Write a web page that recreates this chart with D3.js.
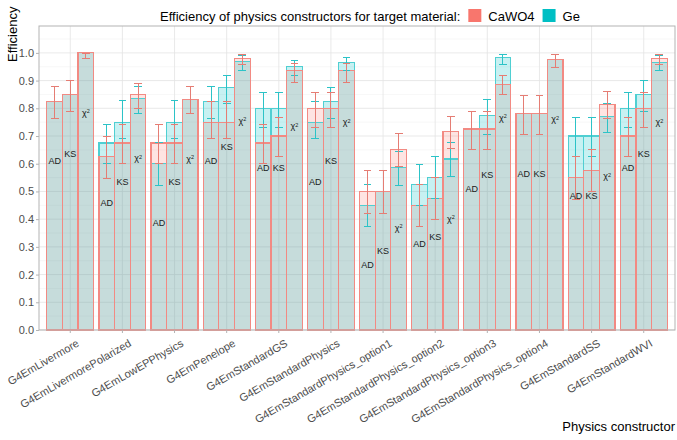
<!DOCTYPE html>
<html>
<head>
<meta charset="utf-8">
<script src="https://cdnjs.cloudflare.com/ajax/libs/d3/7.8.5/d3.min.js"></script>
<style>
  body { margin: 0; background: #fff; }
  text { font-family: "Liberation Sans", Arial, sans-serif; }
</style>
</head>
<body>
<svg id="svg" width="677" height="440"></svg>
<script>
// data
var constructors = ["G4EmLivermore", "G4EmLivermorePolarized", "G4EmLowEPPhysics", "G4EmPenelope",
  "G4EmStandardGS", "G4EmStandardPhysics", "G4EmStandardPhysics_option1", "G4EmStandardPhysics_option2",
  "G4EmStandardPhysics_option3", "G4EmStandardPhysics_option4", "G4EmStandardSS", "G4EmStandardWVI"];
var tests = ["AD", "KS", "X2"];
var yTicks = [0, 0.1, 0.2, 0.3, 0.4, 0.5, 0.6, 0.7, 0.8, 0.9, 1.0];

// efficiency per constructor: [AD, KS, chi2]
var cawo4Eff = [[0.825,0.85,1.0],[0.625,0.675,0.85],[0.675,0.675,0.833],[0.75,0.75,0.98],
  [0.675,0.7,0.935],[0.8,0.8,0.935],[0.5,0.5,0.65],[0.45,0.475,0.716],
  [0.725,0.725,0.885],[0.78,0.78,0.977],[0.55,0.575,0.815],[0.7,0.8,0.98]];
var cawo4Lo = [[0.762,0.79,0.98],[0.547,0.6,0.8],[0.6,0.6,0.783],[0.69,0.69,0.957],
  [0.6,0.626,0.894],[0.73,0.73,0.894],[0.421,0.421,0.59],[0.375,0.397,0.656],
  [0.652,0.652,0.85],[0.704,0.704,0.948],[0.472,0.5,0.762],[0.626,0.73,0.957]];
var cawo4Hi = [[0.878,0.902,0.998],[0.697,0.743,0.891],[0.743,0.743,0.878],[0.826,0.824,0.994],
  [0.743,0.766,0.96],[0.857,0.857,0.96],[0.575,0.575,0.708],[0.526,0.55,0.77],
  [0.789,0.789,0.92],[0.845,0.845,0.993],[0.626,0.65,0.86],[0.766,0.857,0.994]];

var geEff = [[0.825,0.85,1.0],[0.675,0.75,0.835],[0.6,0.75,0.833],[0.825,0.875,0.97],
  [0.8,0.8,0.95],[0.75,0.825,0.965],[0.45,0.5,0.585],[0.525,0.55,0.617],
  [0.725,0.775,0.982],[0.78,0.78,0.977],[0.7,0.7,0.77],[0.8,0.85,0.965]];
var geLo = [[0.762,0.79,0.98],[0.6,0.69,0.782],[0.522,0.69,0.783],[0.762,0.818,0.936],
  [0.73,0.73,0.917],[0.69,0.762,0.936],[0.375,0.421,0.52],[0.45,0.474,0.553],
  [0.652,0.706,0.959],[0.704,0.704,0.948],[0.626,0.626,0.714],[0.73,0.788,0.936]];
var geHi = [[0.878,0.902,0.998],[0.743,0.827,0.878],[0.675,0.827,0.878],[0.878,0.92,0.99],
  [0.857,0.857,0.973],[0.826,0.876,0.984],[0.526,0.575,0.644],[0.599,0.626,0.676],
  [0.789,0.833,0.994],[0.845,0.845,0.993],[0.766,0.766,0.818],[0.857,0.9,0.99]];

var materials = ["CaWO4", "Ge"];
var matColors = { "CaWO4": "#F8766D", "Ge": "#00BFC4" };

var svg = d3.select("#svg");

var pLeft = 39, pRight = 675, pTop = 26, pBottom = 330;

var xScale = d3.scaleBand()
    .domain(constructors)
    .range([pLeft, pRight])
    .paddingInner(0)
    .paddingOuter(0.1);
var step = xScale.step();

var xSub = d3.scaleBand()
    .domain(tests)
    .range([0, step * 0.9]);

var yScale = d3.scaleLinear()
    .domain([0, 1.097])
    .range([pBottom, pTop]);

function rows(eff, lo, hi, mat) {
    var out = [];
    constructors.forEach(function(c, i) {
        tests.forEach(function(t, j) {
            out.push({ c: c, t: t, v: eff[i][j], lo: lo[i][j], hi: hi[i][j], mat: mat });
        });
    });
    return out;
}
var caRows = rows(cawo4Eff, cawo4Lo, cawo4Hi, "CaWO4");
var geRows = rows(geEff, geLo, geHi, "Ge");

function barX(d) { return xScale(d.c) + step * 0.05 + xSub(d.t); }
var bw = xSub.bandwidth();

// panel
svg.append("rect").attr("x", pLeft).attr("y", pTop)
    .attr("width", pRight - pLeft).attr("height", pBottom - pTop).attr("fill", "#fff");

// grid
var minor = d3.range(0.05, 1.097, 0.1);
svg.append("g").selectAll("line").data(minor).enter().append("line")
    .attr("x1", pLeft).attr("x2", pRight)
    .attr("y1", function(d) { return yScale(d); }).attr("y2", function(d) { return yScale(d); })
    .attr("stroke", "#efefef").attr("stroke-width", 0.5);
svg.append("g").selectAll("line").data(yTicks).enter().append("line")
    .attr("x1", pLeft).attr("x2", pRight)
    .attr("y1", function(d) { return yScale(d); }).attr("y2", function(d) { return yScale(d); })
    .attr("stroke", "#e3e3e3").attr("stroke-width", 0.8);
svg.append("g").selectAll("line").data(constructors).enter().append("line")
    .attr("x1", function(d) { return xScale(d) + step / 2; })
    .attr("x2", function(d) { return xScale(d) + step / 2; })
    .attr("y1", pTop).attr("y2", pBottom)
    .attr("stroke", "#e3e3e3").attr("stroke-width", 0.8);

// bar fills, then outlines (CaWO4 outline last so it sits on top)
function drawFill(data, col, alpha) {
    svg.append("g").selectAll("rect").data(data).enter().append("rect")
        .attr("x", barX)
        .attr("y", function(d) { return yScale(d.v); })
        .attr("width", bw)
        .attr("height", function(d) { return yScale(0) - yScale(d.v); })
        .attr("fill", col).attr("fill-opacity", alpha);
}
function drawOutline(data, col) {
    svg.append("g").attr("shape-rendering", "crispEdges")
        .selectAll("rect").data(data).enter().append("rect")
        .attr("x", barX)
        .attr("y", function(d) { return yScale(d.v); })
        .attr("width", bw)
        .attr("height", function(d) { return yScale(0) - yScale(d.v); })
        .attr("fill", "none")
        .attr("stroke", col).attr("stroke-width", 1.2);
}
drawFill(caRows, matColors.CaWO4, 0.2);
drawFill(geRows, matColors.Ge, 0.22);
drawOutline(geRows, "#4fcfd2");
drawOutline(caRows, "#F28A83");

// error bars
function drawErr(data, col) {
    var g = svg.append("g").attr("stroke", col).attr("stroke-width", 1)
        .attr("shape-rendering", "crispEdges");
    var cap = bw * 0.25;
    data.forEach(function(d) {
        var cx = barX(d) + bw / 2;
        g.append("line").attr("x1", cx).attr("x2", cx)
            .attr("y1", yScale(d.lo)).attr("y2", yScale(d.hi));
        g.append("line").attr("x1", cx - cap).attr("x2", cx + cap)
            .attr("y1", yScale(d.lo)).attr("y2", yScale(d.lo));
        g.append("line").attr("x1", cx - cap).attr("x2", cx + cap)
            .attr("y1", yScale(d.hi)).attr("y2", yScale(d.hi));
    });
}
drawErr(geRows, "#2cc3c7");
drawErr(caRows, "#E57D74");

// test labels, placed below the Ge bar top
var lab = svg.append("g").selectAll("text").data(geRows).enter().append("text")
    .attr("x", function(d) { return barX(d) + bw / 2; })
    .attr("y", function(d) { return yScale(d.v - 0.215); })
    .attr("dy", "0.35em")
    .attr("text-anchor", "middle")
    .attr("font-size", 9)
    .attr("fill", "#1a1a1a");
lab.each(function(d) {
    var t = d3.select(this);
    if (d.t === "X2") {
        t.text("χ");
        t.append("tspan").attr("dy", "-0.45em").attr("font-size", 5.5).text("2");
    } else {
        t.text(d.t);
    }
});

// border
svg.append("rect").attr("x", pLeft).attr("y", pTop)
    .attr("width", pRight - pLeft).attr("height", pBottom - pTop)
    .attr("fill", "none").attr("stroke", "#b3b3b3").attr("stroke-width", 1);

// axes
var yAxis = svg.append("g")
    .attr("transform", "translate(" + pLeft + ",0)")
    .call(d3.axisLeft(yScale).tickValues(yTicks).tickFormat(d3.format(".1f")).tickSize(3).tickPadding(2));
yAxis.select(".domain").remove();
yAxis.selectAll("line").attr("stroke", "#b3b3b3");
yAxis.selectAll("text").attr("font-size", 11).attr("fill", "#4d4d4d")
    .style("font-family", "Liberation Sans, Arial, sans-serif");

var xAxis = svg.append("g")
    .attr("transform", "translate(0," + pBottom + ")")
    .call(d3.axisBottom(xScale).tickSize(3).tickPadding(2));
xAxis.select(".domain").remove();
xAxis.selectAll("line").attr("stroke", "#b3b3b3");
xAxis.selectAll("text")
    .attr("font-size", 11).attr("fill", "#4d4d4d")
    .style("font-family", "Liberation Sans, Arial, sans-serif")
    .attr("text-anchor", "end")
    .attr("dy", "0.75em")
    .attr("transform", "translate(3,4) rotate(-30)");

// axis titles
svg.append("text")
    .attr("transform", "translate(17,62) rotate(-90)")
    .attr("font-size", 13).attr("fill", "#000")
    .text("Efficiency");
svg.append("text")
    .attr("x", pRight).attr("y", 431)
    .attr("text-anchor", "end")
    .attr("font-size", 13).attr("fill", "#000")
    .text("Physics constructor");

// legend
var leg = svg.append("g");
var lx = 160;
var title = leg.append("text").attr("x", lx).attr("y", 21)
    .attr("font-size", 13).text("Efficiency of physics constructors for target material:");
lx += title.node().getComputedTextLength() + 8;
materials.forEach(function(m) {
    leg.append("rect").attr("x", lx).attr("y", 9).attr("width", 13).attr("height", 13)
        .attr("fill", matColors[m]);
    lx += 13 + 7;
    var t = leg.append("text").attr("x", lx).attr("y", 21).attr("font-size", 13).text(m);
    lx += t.node().getComputedTextLength() + 8;
});
</script>
</body>
</html>
